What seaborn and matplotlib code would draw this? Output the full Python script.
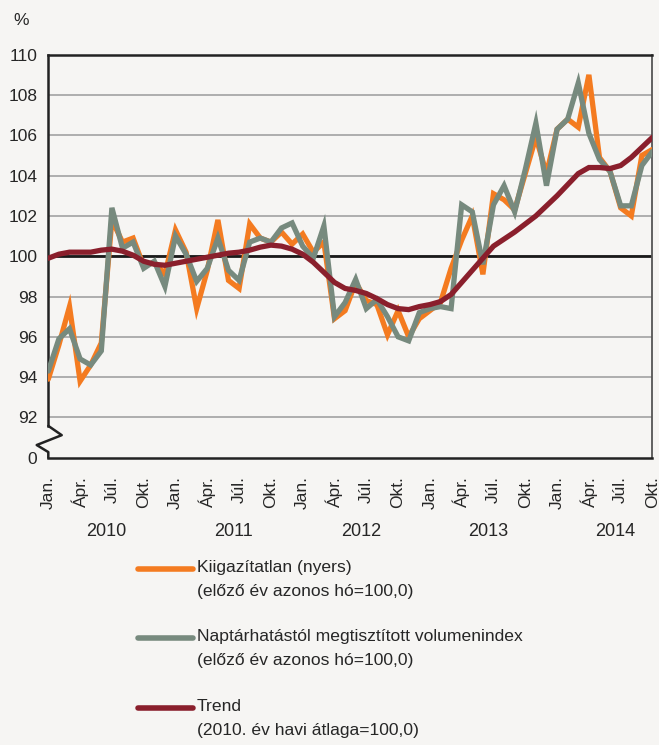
import numpy as np
import pandas as pd
import matplotlib
matplotlib.use('Agg')
import matplotlib.pyplot as plt
import matplotlib.transforms as mtransforms
from matplotlib.lines import Line2D
import seaborn as sns

# data (Jan 2010 - Oct 2014, monthly)
years = ['2010', '2011', '2012', '2013', '2014']
month_labels = ['Jan.', 'Ápr.', 'Júl.', 'Okt.']

raw = [93.9, 95.6, 97.5, 93.8, 94.6, 95.7, 101.8, 100.7, 100.9, 99.5,
       99.7, 99.1, 101.3, 100.2, 97.4, 99.3, 101.8, 98.8, 98.4, 101.6,
       100.9, 100.7, 101.2, 100.6, 101.1, 100.2, 100.7, 96.9, 97.3, 98.7,
       97.8, 97.6, 96.1, 97.3, 96.0, 96.9, 97.3, 97.7, 99.4, 100.8,
       102.0, 99.1, 103.1, 102.8, 102.3, 104.1, 105.9, 104.1, 106.3, 106.8,
       106.4, 109.0, 104.9, 104.2, 102.4, 102.0, 105.0, 105.3]

calendar_adj = [94.3, 95.9, 96.4, 94.9, 94.6, 95.3, 102.4, 100.4, 100.7, 99.4,
                99.75, 98.5, 101.0, 100.1, 98.75, 99.4, 100.9, 99.3, 98.8, 100.7,
                100.9, 100.7, 101.4, 101.65, 100.5, 99.9, 101.5, 97.0, 97.7, 98.85,
                97.4, 97.85, 97.0, 96.0, 95.8, 97.2, 97.4, 97.5, 97.4, 102.55,
                102.2, 99.6, 102.55, 103.5, 102.2, 104.3, 106.6, 103.5, 106.3, 106.8,
                108.6, 106.1, 104.8, 104.2, 102.5, 102.5, 104.5, 105.2]

trend = [99.9, 100.1, 100.2, 100.2, 100.2, 100.3, 100.35, 100.25, 100.05, 99.75,
         99.6, 99.55, 99.65, 99.75, 99.85, 99.95, 100.05, 100.15, 100.2, 100.3,
         100.45, 100.55, 100.5, 100.35, 100.1, 99.7, 99.2, 98.7, 98.4, 98.3,
         98.15, 97.9, 97.6, 97.4, 97.35, 97.5, 97.6, 97.75, 98.1, 98.7,
         99.3, 99.9, 100.5, 100.85, 101.2, 101.6, 102.0, 102.5, 103.0, 103.55,
         104.1, 104.4, 104.4, 104.35, 104.5, 104.9, 105.4, 105.9]

labels = ['Kiigazítatlan (nyers)\n(előző év azonos hó=100,0)',
          'Naptárhatástól megtisztított volumenindex\n(előző év azonos hó=100,0)',
          'Trend\n(2010. év havi átlaga=100,0)']
colors = ['#F47B20', '#778A7E', '#8A1F2C']

bg = '#F6F5F3'
sns.set_style('white')
plt.rcParams['font.family'] = ['Liberation Sans', 'DejaVu Sans']

df = pd.DataFrame({'t': np.arange(len(raw)), 'raw': raw, 'adj': calendar_adj, 'trend': trend})

fig = plt.figure(figsize=(6.59, 7.45), dpi=100, facecolor=bg)
ax = fig.add_axes([0.0733, 0.3856, 0.9168, 0.541], facecolor=bg)

# grid + reference line at 100
for v in range(92, 111, 2):
    ax.axhline(v, color='#A8A8A8', lw=1.3, zorder=1)
ax.axhline(100, color='#1A1A1A', lw=2.0, zorder=2)

for col, c in zip(['raw', 'adj', 'trend'], colors):
    sns.lineplot(data=df, x='t', y=col, color=c, lw=3.8, ax=ax, zorder=3,
                 solid_joinstyle='miter')

ax.set_xlim(0, len(raw) - 1)
ax.set_ylim(90, 110)
ax.set_xlabel('')
ax.set_ylabel('')

# y ticks: bottom of axis is labelled 0 (broken axis)
ax.set_yticks(list(range(90, 111, 2)))
ax.set_yticklabels(['0'] + [str(v) for v in range(92, 111, 2)], fontsize=12.5)
ax.tick_params(axis='y', length=0, pad=8)

# x ticks: every month, labels every quarter
ax.set_xticks(np.arange(len(raw)))
xl = []
for i in range(len(raw)):
    xl.append(month_labels[(i % 12) // 3] if i % 3 == 0 else '')
ax.set_xticklabels(xl, rotation=90, fontsize=12.5)
ax.tick_params(axis='x', length=10, width=1.0, color='#222222', pad=3, direction='out')

for k, yr in enumerate(years):
    ax.text(5.5 + 12 * k, -0.182, yr, transform=mtransforms.blended_transform_factory(ax.transData, ax.transAxes),
            ha='center', va='center', fontsize=13)

for s in ['top', 'bottom', 'left']:
    ax.spines[s].set_color('#222222')
    ax.spines[s].set_linewidth(1.8)
ax.spines['right'].set_color('#555555')
ax.spines['right'].set_linewidth(1.3)
ax.spines['left'].set_bounds(91.58, 110)

# axis break zig-zag
tr = mtransforms.blended_transform_factory(ax.transAxes, ax.transData)
ax.plot([0, 0.0222, -0.0192, 0, 0], [91.58, 91.12, 90.63, 90.28, 90.0],
        transform=tr, color='#222222', lw=1.8, clip_on=False, zorder=5)

fig.text(0.02, 0.972, '%', fontsize=12.5, ha='left', va='center')

# legend drawn by hand (line aligned with first text line)
leg_y = [1 - 569 / 745, 1 - 638 / 745, 1 - 708 / 745]
for y, lab, c in zip(leg_y, labels, colors):
    fig.add_artist(Line2D([138 / 659, 193 / 659], [y, y], color=c, lw=4, solid_capstyle='round'))
    fig.text(197 / 659, y + 0.0125, lab, fontsize=12.6, ha='left', va='top', linespacing=1.8)

fig.savefig('out.png', dpi=100, facecolor=bg)
